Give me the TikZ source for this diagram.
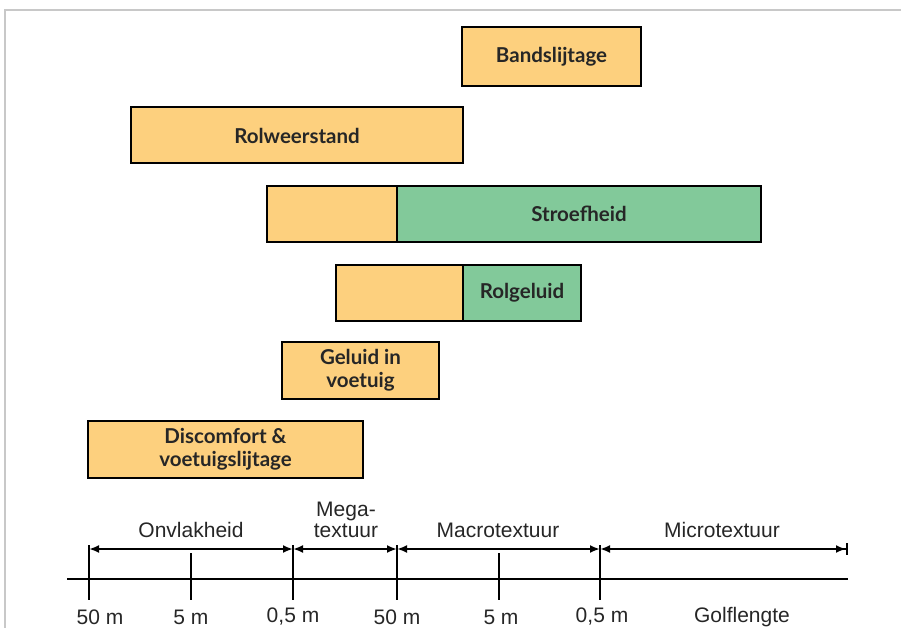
\documentclass[tikz,border=0pt]{standalone}
\usepackage{fontspec}
\setsansfont{Liberation Sans}
\newfontfamily\boxfont{Lato}
\usetikzlibrary{positioning,arrows.meta}

\definecolor{oranje}{HTML}{FDD07E}
\definecolor{groen}{HTML}{82C99A}
\definecolor{tekst}{HTML}{262626}
\definecolor{kader}{HTML}{C8C8C8}

\tikzset{
  blok/.style={draw=black,line width=2pt,outer sep=0pt,inner sep=0pt,
    align=center,text=tekst,font=\boxfont\bfseries\fontsize{20.5}{23}\selectfont},
  oranjeblok/.style={blok,fill=oranje},
  groenblok/.style={blok,fill=groen},
  as/.style={line width=2.5pt},
  maat/.style={line width=2pt,{Latex[length=10pt,width=8pt]}-{Latex[length=10pt,width=8pt]}},
  label/.style={text=tekst,font=\sffamily\fontsize{21}{24}\selectfont,inner sep=0pt}
}

\begin{document}
\begin{tikzpicture}[x=1pt,y=-1pt]
\useasboundingbox (0,0) rectangle (901,628);
% Frame
\draw[kader,line width=2pt] (5,628) -- (5,10) -- (901,10);

% Nodes
\node[oranjeblok,minimum width=179,minimum height=59] (band) at (551.5,56.5) {Bandslijtage};
\node[oranjeblok,minimum width=332,minimum height=56] (rol) at (297,135.5) {Rolweerstand};
\node[oranjeblok,minimum width=130,minimum height=56] (stroefA) at (332,214) {};
\node[groenblok,minimum width=364,minimum height=56,right=0pt of stroefA] (stroef) {Stroefheid};
\node[oranjeblok,minimum width=127,minimum height=56] (rolgelA) at (399.5,293) {};
\node[groenblok,minimum width=118,minimum height=56,right=0pt of rolgelA] (rolgel) {Rolgeluid};
\node[oranjeblok,minimum width=157,minimum height=57] (geluid) at (360.5,370.5) {Geluid in\\voetuig};
\node[oranjeblok,minimum width=275,minimum height=57] (disc) at (225.5,449.5) {Discomfort \&\\voetuigslijtage};

% Axis
\coordinate (a0) at (67,579);
\coordinate (a1) at (848,579);
\coordinate (t1) at (89,600);
\coordinate (t2) at (191,600);
\coordinate (t3) at (293,600);
\coordinate (t4) at (397,600);
\coordinate (t5) at (499,600);
\coordinate (t6) at (600,600);
\coordinate (d1) at (89,545);
\coordinate (d2) at (191,553);
\coordinate (d3) at (293,545);
\coordinate (d4) at (397,545);
\coordinate (d5) at (499,553);
\coordinate (d6) at (600,545);
\coordinate (m1) at (89,549);
\coordinate (m3) at (293,549);
\coordinate (m4) at (397,549);
\coordinate (m6) at (600,549);
\coordinate (m7) at (848,549);
\draw[as] (a0) -- (a1);
\draw[as] (d1) -- (t1);
\draw[as] (d2) -- (t2);
\draw[as] (d3) -- (t3);
\draw[as] (d4) -- (t4);
\draw[as] (d5) -- (t5);
\draw[as] (d6) -- (t6);
\draw[maat] (m1) -- (m3);
\draw[maat] (m3) -- (m4);
\draw[maat] (m4) -- (m6);
\draw[maat,{Latex[length=10pt,width=8pt]}-{Latex[length=10pt,width=8pt] Bar[width=12pt]}] (m6) -- (m7);

% Labels
\node[label] (onvlak) at (191,530) {Onvlakheid};
\node[label,align=center,font=\sffamily\fontsize{21}{21}\selectfont] (mega) at (346,520) {Mega-\\textuur};
\node[label] (macro) at (498,530) {Macrotextuur};
\node[label] (micro) at (722,530) {Microtextuur};
\node[label] (l1) at (100,617) {50 m};
\node[label] (l2) at (191,617) {5 m};
\node[label] (l3) at (293,617) {0,5 m};
\node[label] (l4) at (397,617) {50 m};
\node[label] (l5) at (501,617) {5 m};
\node[label] (l6) at (602,617) {0,5 m};
\node[label] (golf) at (742,617) {Golflengte};
\end{tikzpicture}
\end{document}
